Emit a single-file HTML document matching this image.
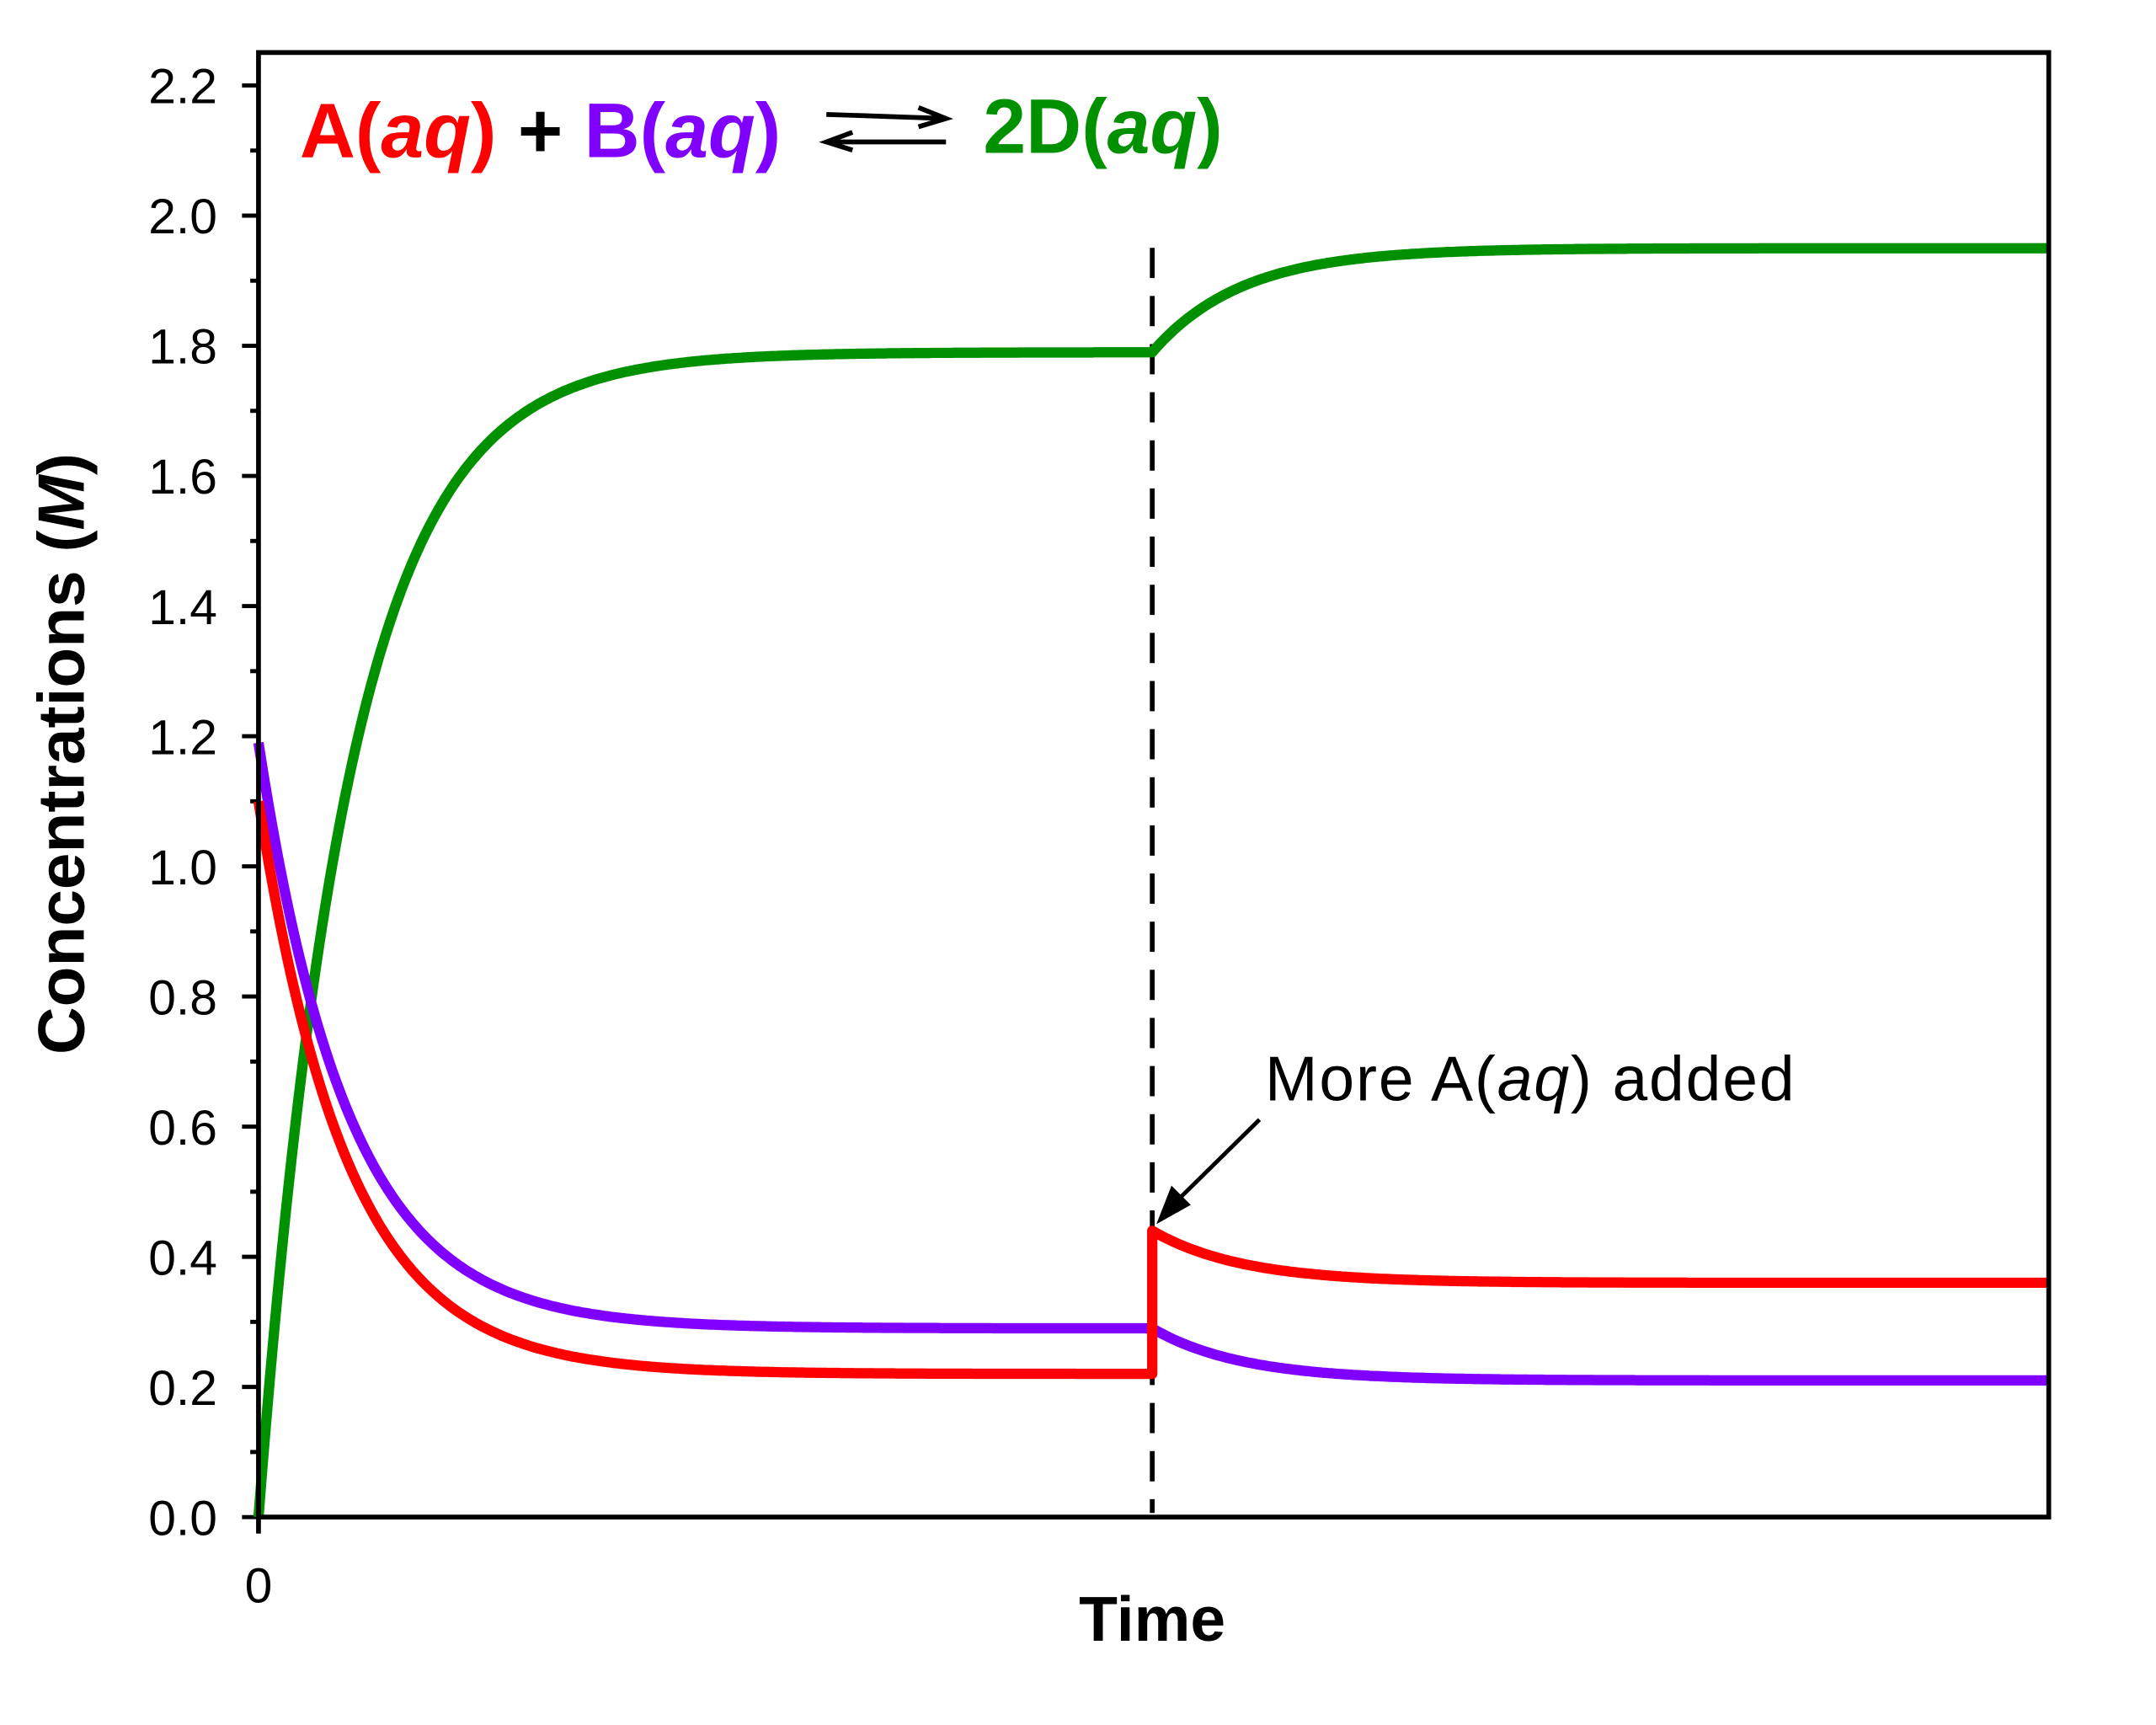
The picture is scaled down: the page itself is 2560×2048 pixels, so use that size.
<!DOCTYPE html>
<html><head><meta charset="utf-8"><style>
html,body{margin:0;padding:0;background:#fff;}
svg{display:block;}
text{font-family:"Liberation Sans",Arial,sans-serif;}
</style></head><body>
<svg id="s" width="2560" height="2048" viewBox="0 0 1568 1254" xmlns="http://www.w3.org/2000/svg">
<rect width="1568" height="1254" fill="#fff"/>
<g id="ticks" stroke="#000" stroke-width="3"></g>
<g id="labels" font-size="36" fill="#000" text-anchor="end"></g>
<line x1="838" y1="180" x2="838" y2="1100" stroke="#000" stroke-width="3.5" stroke-dasharray="22,13"/>
<path id="green" fill="none" stroke="#009000" stroke-width="7.5" stroke-linejoin="round"/>
<path id="purple" fill="none" stroke="#8000ff" stroke-width="7.5" stroke-linejoin="round"/>
<path id="red" fill="none" stroke="#ff0000" stroke-width="7.5" stroke-linejoin="round"/>
<rect x="188" y="38" width="1302" height="1065" fill="none" stroke="#000" stroke-width="3.5"/>
<line x1="188" y1="1103" x2="188" y2="1115" stroke="#000" stroke-width="3.5"/>
<text x="188" y="1165" font-size="36" text-anchor="middle">0</text>
<text x="838" y="1193" font-size="46" font-weight="bold" text-anchor="middle">Time</text>
<text transform="translate(61,548) rotate(-90)" font-size="48" font-weight="bold" text-anchor="middle">Concentrations (<tspan font-style="italic">M</tspan>)</text>
<text x="218" y="114" font-size="56" font-weight="bold"><tspan fill="#ff0000">A(<tspan font-style="italic">aq</tspan>)</tspan><tspan fill="#000"> + </tspan><tspan fill="#8000ff">B(<tspan font-style="italic">aq</tspan>)</tspan></text>
<text x="715" y="111" font-size="56" font-weight="bold" fill="#009000">2D(<tspan font-style="italic">aq</tspan>)</text>
<g stroke="#000" stroke-width="3.5" fill="none">
<line x1="601" y1="83" x2="688" y2="86"/><polyline points="668,78 688,86 668,92"/>
<line x1="601" y1="103" x2="688" y2="103"/><polyline points="620,96 601,103 620,109"/>
</g>
<text x="920" y="800" font-size="46" textLength="385">More A(<tspan font-style="italic">aq</tspan>) added</text>
<line x1="916" y1="814" x2="855" y2="874" stroke="#000" stroke-width="3"/>
<polygon points="841,890 852,862 866,876" fill="#000"/>
</svg>
<script>
var Y=function(v){return 1103-v*473.2;};
var tk='',lb='';
for(var i=0;i<=22;i++){var y=Y(i/10);var len=(i%2==0)?12:6;tk+='<line x1="'+(188-len)+'" y1="'+y+'" x2="188" y2="'+y+'"/>';
if(i%2==0)lb+='<text x="158" y="'+(y+13)+'">'+(i/10).toFixed(1)+'</text>';}
document.getElementById('ticks').innerHTML=tk;document.getElementById('labels').innerHTML=lb;
var k=0.0153;
function path(f0,f1){var d='';for(var x=188;x<=838;x+=2){d+=(x==188?'M':'L')+x+','+Y(f0(x-188)).toFixed(1)+' ';}
var s=f1(0);d+='L838,'+Y(s).toFixed(1)+' ';for(var x=840;x<=1490;x+=2){d+='L'+x+','+Y(f1(x-838)).toFixed(1)+' ';}return d;}
document.getElementById('green').setAttribute('d',path(function(t){return 1.79*(1-Math.exp(-k*t));},function(t){return 1.95-0.16*Math.exp(-k*t);}));
document.getElementById('purple').setAttribute('d',path(function(t){return 0.29+0.90*Math.exp(-k*t);},function(t){return 0.21+0.08*Math.exp(-k*t);}));
var rd=path(function(t){return 0.22+0.88*Math.exp(-k*t);},function(t){return 0.36+0.08*Math.exp(-k*t);});
rd=rd.replace('L838,'+Y(0.44).toFixed(1),'L838,'+Y(0.22).toFixed(1)+' L838,'+Y(0.44).toFixed(1));
document.getElementById('red').setAttribute('d',rd);
</script>
</body></html>
